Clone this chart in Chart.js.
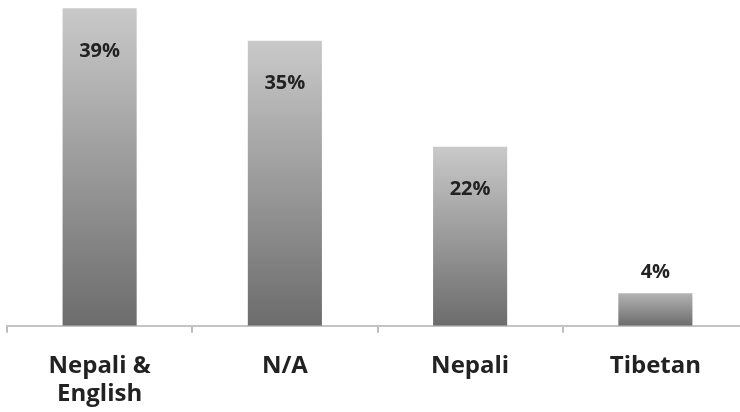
<!DOCTYPE html>
<html>
<head>
<meta charset="utf-8">
<script src="https://cdn.jsdelivr.net/npm/chart.js@4"></script>
<style>
  html, body { margin: 0; padding: 0; background: #fff; overflow: hidden; }
  #box { position: relative; width: 748px; height: 427px; }
</style>
</head>
<body>
<div id="box"><canvas id="grafico"></canvas></div>
<script>
// datos del gráfico
const categorias = [["Nepali &", "English"], "N/A", "Nepali", "Tibetan"];
const porcentajes = [39, 35, 22, 4];

// etiquetas de porcentaje sobre cada barra
const etiquetas = {
    id: "etiquetas",
    afterDatasetsDraw(chart) {
        const ctx = chart.ctx;
        const barras = chart.getDatasetMeta(0).data;
        ctx.save();
        ctx.font = "bold 20px 'Open Sans'";
        ctx.fillStyle = "#222";
        ctx.textAlign = "center";
        ctx.textBaseline = "middle";
        barras.forEach((barra, i) => {
            const alto = barra.base - barra.y;
            const y = alto > 80 ? barra.y + 43 : barra.y - 21;
            ctx.fillText(porcentajes[i] + "%", barra.x, y);
        });
        ctx.restore();
    }
};

function degradado(context) {
    const chart = context.chart;
    const { chartArea } = chart;
    if (!chartArea) return "#999";
    const y = chart.scales.y;
    const v = context.raw;
    const top = y.getPixelForValue(v);
    const bottom = y.getPixelForValue(0);
    const g = chart.ctx.createLinearGradient(0, top, 0, bottom);
    const claro = v > 10 ? "#c9c9c9" : "#b3b3b3";
    g.addColorStop(0, claro);
    g.addColorStop(1, "#6c6c6c");
    return g;
}

const ctx = document.getElementById("grafico");
new Chart(ctx, {
    type: "bar",
    data: {
        labels: categorias,
        datasets: [{
            data: porcentajes,
            backgroundColor: degradado,
            borderWidth: 0,
            categoryPercentage: 1,
            barPercentage: 0.4
        }]
    },
    options: {
        responsive: true,
        maintainAspectRatio: false,
        animation: false,
        layout: { padding: { left: 7, right: 0, top: 0, bottom: 0 } },
        plugins: { legend: { display: false }, tooltip: { enabled: false } },
        scales: {
            x: {
                grid: {
                    offset: true,
                    drawOnChartArea: false,
                    drawTicks: true,
                    tickLength: 7,
                    color: "#bdbdbd",
                    lineWidth: 2
                },
                border: { color: "#c4c4c4", width: 2 },
                ticks: {
                    color: "#222",
                    font: { family: "'Open Sans'", size: 24, weight: "bold", lineHeight: 1.17 },
                    padding: 19,
                    maxRotation: 0
                }
            },
            y: {
                display: false,
                min: 0,
                max: 40
            }
        }
    },
    plugins: [etiquetas]
});
</script>
</body>
</html>
